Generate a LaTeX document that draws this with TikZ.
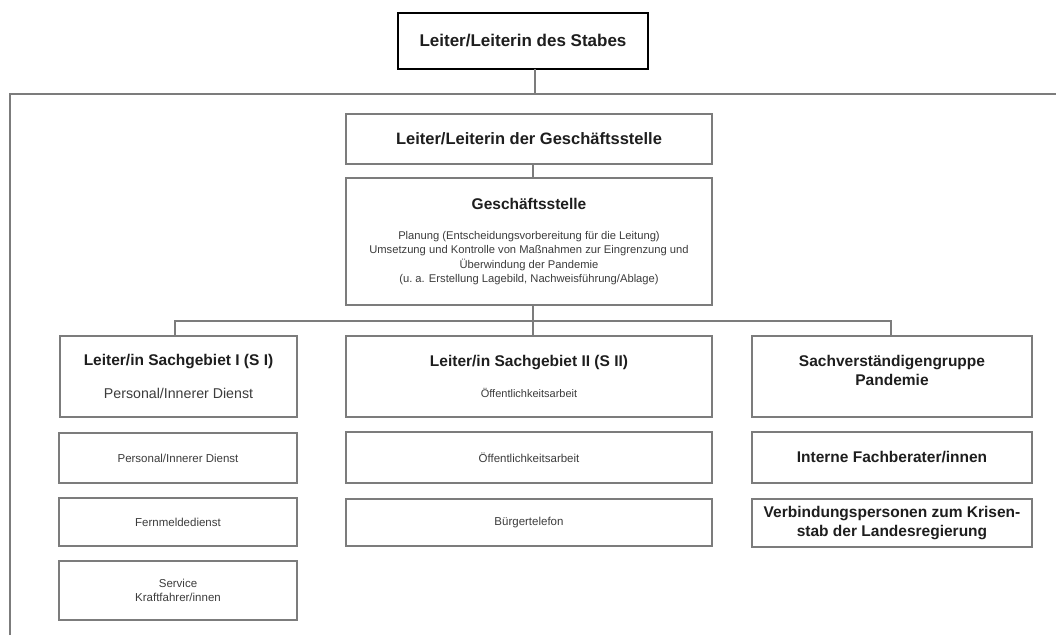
\documentclass[tikz,border=0pt]{standalone}
\usepackage{fontspec}
\setmainfont{Liberation Sans}
\definecolor{linegray}{HTML}{7C7C7C}
\definecolor{txtdark}{HTML}{1E1E1E}
\definecolor{txtsoft}{HTML}{3C3C3C}
\newcommand{\fbig}{\bfseries\fontsize{17}{20}\selectfont}
\newcommand{\fttl}{\bfseries\fontsize{15.5}{19}\selectfont}
\newcommand{\fsub}{\fontsize{11.5}{14}\selectfont}
\begin{document}
\begin{tikzpicture}[x=1pt,y=-1pt,
  box/.style={draw=linegray,line width=1.6pt,rectangle,inner sep=2pt,outer sep=0pt,align=center,text=txtdark},
  conn/.style={draw=linegray,line width=1.6pt},
  topbox/.style={draw=black,line width=2.8pt,rectangle,inner sep=2pt,outer sep=0pt,align=center,text=txtdark}]
\useasboundingbox (0,0) rectangle (1056,635);
\fill[white] (0,0) rectangle (1056,635);

% boxes
\node[topbox,minimum width=250pt,minimum height=56pt] (top) at (523,41) {\fbig Leiter/Leiterin des Stabes};
\node[box,minimum width=366pt,minimum height=50pt] (lgs) at (529,139) {\bfseries\fontsize{16.5}{19}\selectfont Leiter/Leiterin der Geschäftsstelle};
\node[box,minimum width=366pt,minimum height=127pt,font=\fontsize{11.2}{14.3}\selectfont] (gs) at (529,241.5)
  {{\fttl Geschäftsstelle}\\[16pt]
   {\color{txtsoft}Planung (Entscheidungsvorbereitung für die Leitung)}\\
   {\color{txtsoft}Umsetzung und Kontrolle von Maßnahmen zur Eingrenzung und}\\
   {\color{txtsoft}Überwindung der Pandemie}\\
   {\color{txtsoft}(u.\ a. Erstellung Lagebild, Nachweisführung/Ablage)}};

\node[box,minimum width=237pt,minimum height=81pt,font=\fontsize{14.2}{17}\selectfont] (s1) at (178.5,376.5)
  {{\fttl Leiter/in Sachgebiet I (S I)}\\[16.5pt]{\color{txtsoft}Personal/Innerer Dienst}};
\node[box,minimum width=366pt,minimum height=81pt,font=\fontsize{11}{13}\selectfont] (s2) at (529,376.5)
  {{\fttl Leiter/in Sachgebiet II (S II)}\\[18.4pt]{\color{txtsoft}Öffentlichkeitsarbeit}};
\node[box,minimum width=280pt,minimum height=81pt,font=\fttl] (svg) at (892,376.5)
  {\raisebox{4pt}[\height][\depth]{\begin{tabular}{@{}c@{}}Sachverständigengruppe\\Pandemie\end{tabular}}};

\node[box,minimum width=238pt,minimum height=50pt,font=\fsub,text=txtsoft] (s1a) at (178,458) {Personal/Innerer Dienst};
\node[box,minimum width=238pt,minimum height=48pt,font=\fsub,text=txtsoft] (s1b) at (178,522) {Fernmeldedienst};
\node[box,minimum width=238pt,minimum height=59pt,font=\fsub,text=txtsoft] (s1c) at (178,590.5) {Service\\Kraftfahrer/innen};

\node[box,minimum width=366pt,minimum height=51pt,font=\fsub,text=txtsoft] (s2a) at (529,457.5) {Öffentlichkeitsarbeit};
\node[box,minimum width=366pt,minimum height=47pt,font=\fsub,text=txtsoft] (s2b) at (529,522.5) {Bürgertelefon};

\node[box,minimum width=280pt,minimum height=51pt,font=\fttl] (svga) at (892,457.5) {Interne Fachberater/innen};
\node[box,minimum width=280pt,minimum height=48pt,font=\fttl] (svgb) at (892,523) {Verbindungspersonen zum Krisen-\\stab der Landesregierung};

% connector coordinates
\coordinate (topdrop) at (535,94);
\coordinate (busL) at (10,94);
\coordinate (busR) at (1056,94);
\coordinate (leftend) at (10,635);
\coordinate (gsx) at (533,0);
\coordinate (b2L) at (175,321);
\coordinate (b2R) at (891,321);

% connectors
\draw[conn] (top.south -| topdrop) -- (topdrop);
\draw[conn] (leftend) -- (busL) -- (busR);
\draw[conn] (lgs.south -| gsx) -- (gs.north -| gsx);
\draw[conn] (gs.south -| gsx) -- (s2.north -| gsx);
\draw[conn] (s1.north -| b2L) -- (b2L) -- (b2R) -- (svg.north -| b2R);
\end{tikzpicture}
\end{document}
